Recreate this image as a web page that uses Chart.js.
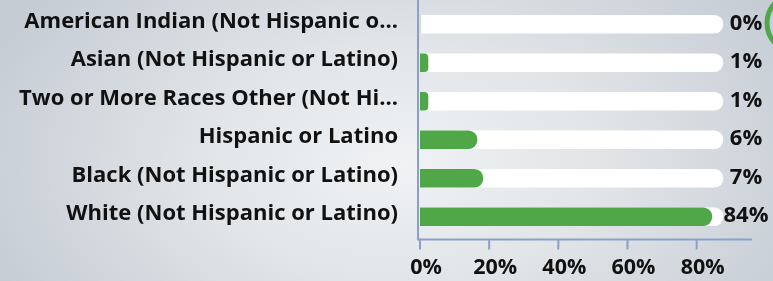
<!DOCTYPE html>
<html>
<head>
<meta charset="utf-8">
<script src="https://cdn.jsdelivr.net/npm/chart.js@4/dist/chart.umd.min.js"></script>
<style>
  html, body { margin: 0; padding: 0; }
  body {
    width: 773px; height: 281px; overflow: hidden;
    background: radial-gradient(ellipse 58% 95% at 52% 58%, #f0f2f4 0%, #e1e5e8 45%, #c5ccd4 100%);
  }
</style>
</head>
<body>
<canvas id="chart" width="773" height="281"></canvas>
<script>
var categories = [
  'American Indian (Not Hispanic o...',
  'Asian (Not Hispanic or Latino)',
  'Two or More Races Other (Not Hi...',
  'Hispanic or Latino',
  'Black (Not Hispanic or Latino)',
  'White (Not Hispanic or Latino)'
];
// bar lengths, with the printed labels kept separately
var barValues = [0, 2.3, 2.3, 16.5, 18.2, 84.4];
var valueLabels = ['0%', '1%', '1%', '6%', '7%', '84%'];
var trackValues = [87.6, 87.6, 87.6, 87.6, 87.6, 87.6];
var xTicks = [0, 20, 40, 60, 80];

var green = '#4fa747';
var axisColor = '#8c9fc8';
var textColor = '#111111';
var fontFamily = '"Open Sans"';

var decor = {
  id: 'decor',
  afterDraw: function(chart) {
    var ctx = chart.ctx;
    var xs = chart.scales.x;
    var ys = chart.scales.y;
    var left = xs.getPixelForValue(0) - 2;
    var axisY = 239.5;
    ctx.save();
    ctx.strokeStyle = axisColor;
    ctx.lineWidth = 2;
    ctx.beginPath();
    ctx.moveTo(left, 0);
    ctx.lineTo(left, axisY);
    ctx.lineTo(xs.right, axisY);
    xTicks.forEach(function(v) {
      var px = xs.getPixelForValue(v);
      ctx.moveTo(px, axisY);
      ctx.lineTo(px, axisY + 10);
    });
    ctx.stroke();

    // value labels
    ctx.fillStyle = textColor;
    ctx.font = 'bold 22px ' + fontFamily;
    ctx.textAlign = 'center';
    ctx.textBaseline = 'middle';
    valueLabels.forEach(function(t, i) {
      ctx.fillText(t, 746, ys.getPixelForValue(i) - 1);
    });

    // green ring in the corner
    ctx.strokeStyle = green;
    ctx.lineWidth = 5;
    ctx.beginPath();
    ctx.arc(796, 23, 29, 0, Math.PI * 2);
    ctx.stroke();
    ctx.restore();
  }
};

function noPadding(scale) {
  scale.paddingTop = 0;
  scale.paddingBottom = 0;
  scale.paddingLeft = 0;
  scale.paddingRight = 0;
}

new Chart(document.getElementById('chart'), {
  type: 'bar',
  data: {
    labels: categories,
    datasets: [{
      data: barValues,
      backgroundColor: green,
      borderRadius: 9,
      borderSkipped: 'start',
      barThickness: 18,
      grouped: false,
      order: 1
    }, {
      data: trackValues,
      backgroundColor: '#ffffff',
      borderRadius: 9,
      borderSkipped: 'start',
      barThickness: 18,
      grouped: false,
      order: 2
    }]
  },
  options: {
    indexAxis: 'y',
    responsive: false,
    animation: false,
    layout: { autoPadding: false, padding: { top: 5, right: 21, left: 0, bottom: 0 } },
    plugins: {
      legend: { display: false },
      tooltip: { enabled: false }
    },
    scales: {
      x: {
        min: 0,
        max: 96,
        afterBuildTicks: function(scale) {
          scale.ticks = xTicks.map(function(v) { return { value: v }; });
        },
        afterFit: function(scale) { scale.height = 45; noPadding(scale); },
        grid: { display: false, drawTicks: false },
        border: { display: false },
        ticks: {
          padding: 19,
          labelOffset: 6,
          color: textColor,
          font: { family: fontFamily, weight: 'bold', size: 21.5 },
          callback: function(v) { return v + '%'; }
        }
      },
      y: {
        afterFit: function(scale) { scale.width = 420; noPadding(scale); },
        grid: { display: false, drawTicks: false },
        border: { display: false },
        ticks: {
          padding: 22,
          labelOffset: -3,
          color: textColor,
          font: { family: fontFamily, weight: 'bold', size: 22 }
        }
      }
    }
  },
  plugins: [decor]
});
</script>
</body>
</html>
